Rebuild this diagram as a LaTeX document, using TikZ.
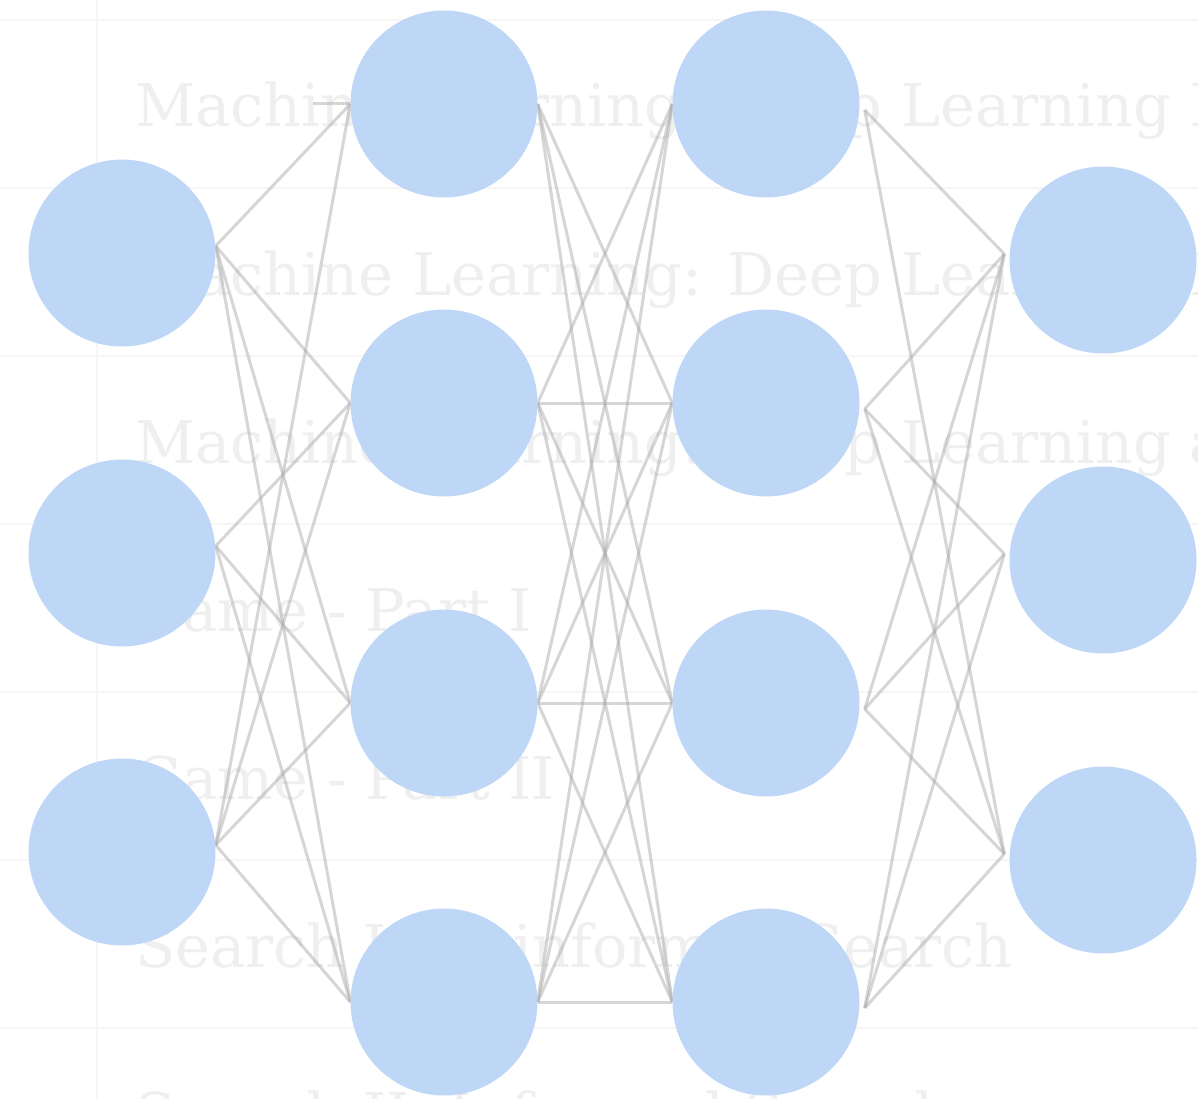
\documentclass[tikz,border=0pt]{standalone}
\usepackage{fontspec}
\setmainfont{DejaVu Serif}
\usetikzlibrary{calc}

\definecolor{nodefill}{RGB}{191,215,246}
\definecolor{edgegray}{RGB}{173,173,173}
\definecolor{rowtext}{RGB}{239,239,239}
\definecolor{gridline}{RGB}{246,246,246}

\pgfdeclarelayer{bg}
\pgfdeclarelayer{edges}
\pgfsetlayers{bg,edges,main}

\begin{document}
\begin{tikzpicture}[x=1pt,y=-1pt,
  neuron/.style={circle, fill=nodefill, draw=none, minimum size=187pt, inner sep=0pt},
  link/.style={draw=edgegray, draw opacity=0.5, line width=3pt},
  rowlabel/.style={anchor=base west, inner sep=0pt, text=rowtext,
                   font=\fontsize{59}{70}\selectfont},
  rulestyle/.style={draw=gridline, line width=2pt}]
\useasboundingbox (0,0) rectangle (1198,1099);
\clip (0,0) rectangle (1198,1099);

% ---- network layers ----
\foreach \i/\y in {1/253,2/553,3/852}
  \node[neuron] (a\i) at (122,\y) {};
\foreach \i/\y in {1/104,2/403,3/703,4/1002}
  \node[neuron] (b\i) at (444,\y) {};
\foreach \i/\y in {1/104,2/403,3/703,4/1002}
  \node[neuron] (c\i) at (766,\y) {};
\foreach \i/\y in {1/260,2/560,3/860}
  \node[neuron] (d\i) at (1103,\y) {};

% ---- table behind the network ----
\begin{pgfonlayer}{bg}
  \foreach \y in {20,188,...,1028}
    \draw[rulestyle] (0,\y) -- (1198,\y);
  \draw[rulestyle] (97,0) -- (97,1099);
  \node[rowlabel] (row1) at (135,127) {Machine Learning: Deep Learning II};
  \node[rowlabel] (row2) at (135,295) {Machine Learning: Deep Learning I};
  \node[rowlabel] (row3) at (135,463) {Machine Learning: Deep Learning and};
  \node[rowlabel] (row4) at (135,631) {Game - Part I};
  \node[rowlabel] (row5) at (135,799) {Game - Part II};
  \node[rowlabel] (row6) at (135,967) {Search I: Uninformed Search};
  \node[rowlabel] (row7) at (135,1135) {Search II: Informed Search};
\end{pgfonlayer}

% ---- connections ----
\begin{pgfonlayer}{edges}
  \coordinate (stub) at (313,104);
  \draw[link] (stub) -- (b1.west);
  \foreach \s/\t in {1/1,1/2,1/3,1/4,2/2,2/3,2/4,3/1,3/2,3/3,3/4}
    \draw[link] ($(a\s.east)+(0,-7)$) -- (b\t.west);
  \foreach \s/\t in {1/2,1/3,1/4,2/1,2/2,2/3,2/4,3/1,3/2,3/3,3/4,4/1,4/2,4/3,4/4}
    \draw[link] (b\s.east) -- (c\t.west);
  \foreach \s/\t in {1/1,1/3,2/1,2/2,2/3,3/1,3/2,3/3,4/1,4/2,4/3}
    \draw[link] ($(c\s.east)+(5,6)$) -- ($(d\t.west)+(-5,-6)$);
\end{pgfonlayer}
\end{tikzpicture}
\end{document}
